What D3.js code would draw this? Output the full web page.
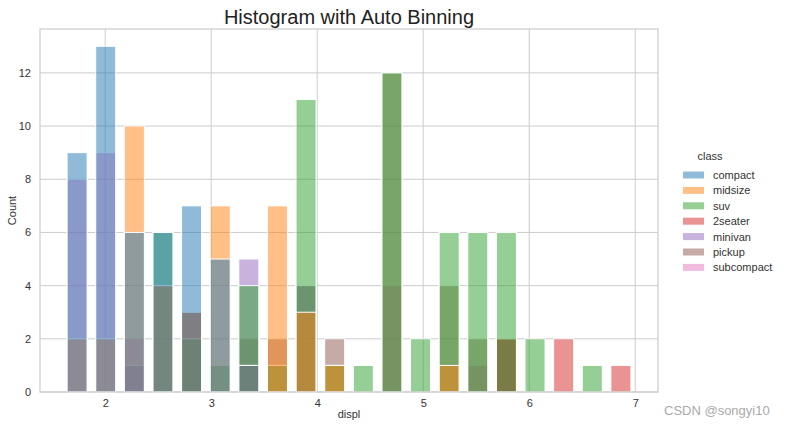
<!DOCTYPE html>
<html lang="en">
<head>
<meta charset="utf-8">
<title>Histogram with Auto Binning</title>
<script src="https://cdn.jsdelivr.net/npm/d3@7"></script>
<style>
    body { margin: 0; background: #fff; font-family: "Liberation Sans", Arial, sans-serif; }
    .grid line { stroke: #cccccc; stroke-width: 1; }
    .tick text { fill: #333; font-size: 11px; }
</style>
</head>
<body>
<svg></svg>
<script>
    // bin left edges (20 bins, width 0.27)
    var binEdges = [1.6, 1.87, 2.14, 2.41, 2.68, 2.95, 3.22, 3.49, 3.76, 4.03,
                    4.30, 4.57, 4.84, 5.11, 5.38, 5.65, 5.92, 6.19, 6.46, 6.73, 7.0];

    var classes = ["compact", "midsize", "suv", "2seater", "minivan", "pickup", "subcompact"];
    var colors = ["#1f77b4", "#ff7f0e", "#2ca02c", "#d62728", "#9467bd", "#8c564b", "#e377c2"];

    // counts per bin, one array per class
    var compact    = [9, 13, 6, 6, 7, 5, 1, 0, 0, 0, 0, 0, 0, 0, 0, 0, 0, 0, 0, 0];
    var midsize    = [2, 2, 10, 4, 3, 7, 1, 7, 3, 1, 0, 0, 0, 1, 0, 0, 0, 0, 0, 0];
    var suv        = [0, 0, 0, 6, 2, 1, 4, 1, 11, 1, 1, 12, 2, 6, 6, 6, 2, 0, 1, 0];
    var twoseater  = [0, 0, 0, 0, 0, 0, 0, 0, 0, 0, 0, 0, 0, 0, 0, 2, 0, 2, 0, 1];
    var minivan    = [0, 0, 1, 0, 0, 0, 5, 0, 4, 0, 0, 0, 0, 0, 0, 0, 0, 0, 0, 0];
    var pickup     = [0, 0, 0, 0, 3, 0, 2, 2, 4, 2, 0, 12, 0, 4, 2, 2, 0, 0, 0, 0];
    var subcompact = [8, 9, 2, 4, 3, 0, 0, 0, 0, 0, 0, 4, 0, 0, 1, 2, 0, 0, 0, 0];

    var counts = [compact, midsize, suv, twoseater, minivan, pickup, subcompact];

    var xTicks = [2, 3, 4, 5, 6, 7];
    var yTicks = [0, 2, 4, 6, 8, 10, 12];

    var width = 785, height = 428;
    var margin = {top: 29, right: 127, bottom: 36, left: 40};
    var chartWidth = width - margin.left - margin.right,
        chartHeight = height - margin.top - margin.bottom;

    var svg = d3.select("svg")
        .attr("width", width)
        .attr("height", height);

    var g = svg.append("g")
        .attr("transform", "translate(" + margin.left + "," + margin.top + ")");

    var x = d3.scaleLinear().domain([1.385, 7.215]).range([0, chartWidth]);
    var y = d3.scaleLinear().domain([0, 13.65]).range([chartHeight, 0]);

    // grid
    var grid = g.append("g").attr("class", "grid");
    grid.selectAll(".gx").data(xTicks).enter().append("line")
        .attr("x1", function (d) { return x(d); })
        .attr("x2", function (d) { return x(d); })
        .attr("y1", 0).attr("y2", chartHeight);
    grid.selectAll(".gy").data(yTicks).enter().append("line")
        .attr("x1", 0).attr("x2", chartWidth)
        .attr("y1", function (d) { return y(d); })
        .attr("y2", function (d) { return y(d); });

    // bars, last class drawn first so compact ends on top
    var shrink = 0.7;
    for (var k = classes.length - 1; k >= 0; k--) {
        var rows = [];
        counts[k].forEach(function (c, i) {
            if (c > 0) rows.push({x0: binEdges[i], x1: binEdges[i + 1], n: c});
        });
        g.append("g").selectAll("rect")
            .data(rows)
            .enter().append("rect")
            .attr("x", function (d) {
                var w = (d.x1 - d.x0) * shrink;
                return x((d.x0 + d.x1) / 2 - w / 2);
            })
            .attr("width", function (d) {
                var w = (d.x1 - d.x0) * shrink;
                return x(d.x0 + w) - x(d.x0);
            })
            .attr("y", function (d) { return y(d.n); })
            .attr("height", function (d) { return y(0) - y(d.n); })
            .attr("fill", colors[k])
            .attr("fill-opacity", 0.5)
            .attr("stroke", "#fff")
            .attr("stroke-width", 1);
    }

    // frame
    g.append("rect")
        .attr("width", chartWidth).attr("height", chartHeight)
        .attr("fill", "none").attr("stroke", "#cccccc").attr("stroke-width", 1.2);

    // axes
    var xAxis = g.append("g")
        .attr("transform", "translate(0," + chartHeight + ")")
        .call(d3.axisBottom(x).tickValues(xTicks).tickFormat(d3.format("d")).tickSize(0).tickPadding(7));
    xAxis.select(".domain").remove();

    var yAxis = g.append("g")
        .call(d3.axisLeft(y).tickValues(yTicks).tickSize(0).tickPadding(9));
    yAxis.select(".domain").remove();

    svg.selectAll(".tick text").style("font-family", "'Liberation Sans', Arial, sans-serif");

    // labels
    svg.append("text")
        .attr("x", margin.left + chartWidth / 2)
        .attr("y", 24)
        .attr("text-anchor", "middle")
        .style("font-size", "20px")
        .style("fill", "#222")
        .text("Histogram with Auto Binning");

    svg.append("text")
        .attr("x", margin.left + chartWidth / 2)
        .attr("y", 418)
        .attr("text-anchor", "middle")
        .style("font-size", "11px")
        .style("fill", "#333")
        .text("displ");

    svg.append("text")
        .attr("transform", "translate(16," + (margin.top + chartHeight / 2) + ") rotate(-90)")
        .attr("text-anchor", "middle")
        .style("font-size", "11px")
        .style("fill", "#333")
        .text("Count");

    // legend
    var legend = svg.append("g").attr("transform", "translate(683,160)");
    legend.append("text")
        .attr("x", 27).attr("y", 0)
        .attr("text-anchor", "middle")
        .style("font-size", "11px").style("fill", "#333")
        .text("class");
    var items = legend.selectAll(".item").data(classes).enter().append("g")
        .attr("transform", function (d, i) { return "translate(0," + (15 + i * 15.4) + ")"; });
    items.append("rect")
        .attr("x", 0).attr("y", -3.5).attr("width", 21).attr("height", 7)
        .attr("fill", function (d, i) { return colors[i]; })
        .attr("fill-opacity", 0.5);
    items.append("text")
        .attr("x", 30).attr("y", 4)
        .style("font-size", "11px").style("fill", "#333")
        .text(function (d) { return d; });

    // watermark
    svg.append("text")
        .attr("x", 664).attr("y", 415)
        .style("font-size", "13px").style("fill", "#aaa")
        .text("CSDN @songyi10");
</script>
</body>
</html>
